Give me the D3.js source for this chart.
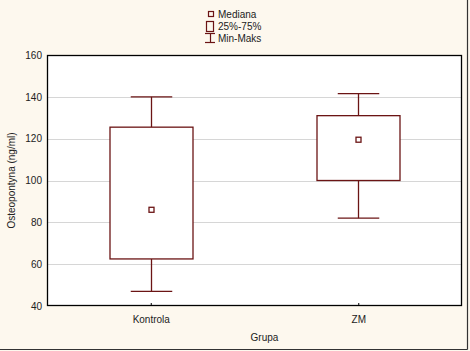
<!DOCTYPE html>
<html><head><meta charset="utf-8">
<script src="https://cdn.jsdelivr.net/npm/d3@7"></script>
<style>body{margin:0;background:#fdf8ee;}svg{display:block;font-family:"Liberation Sans",Arial,sans-serif;}</style>
</head><body>
<script>
const categories = ["Kontrola", "ZM"];
const minVals = [47, 82];
const q1Vals = [62.5, 100];
const medianVals = [86, 119.5];
const q3Vals = [125.5, 131];
const maxVals = [140, 141.5];
const yTicks = [40, 60, 80, 100, 120, 140, 160];
const legendLabels = ["Mediana", "25%-75%", "Min-Maks"];

(function(){
const W = 470, H = 351;
const pLeft = 47, pRight = 462, pTop = 55, pBottom = 306;
const col = "#6b1414";
const svg = d3.select("body").append("svg").attr("width", W).attr("height", H);
svg.append("rect").attr("x",0).attr("y",0).attr("width",W).attr("height",H).attr("fill","#fdf8ee");
// outer frame
svg.append("line").attr("x1",0).attr("x2",467.5).attr("y1",349.5).attr("y2",349.5).attr("stroke","#333").attr("stroke-width",1.2);
svg.append("line").attr("x1",467.5).attr("x2",467.5).attr("y1",0).attr("y2",349.5).attr("stroke","#333").attr("stroke-width",1.2);

const x = d3.scalePoint().domain(categories).range([pLeft, pRight]).padding(0.5);
const y = d3.scaleLinear().domain([40, 160]).range([pBottom, pTop]);
const step = x.step();
const boxW = step * 0.2, capW = step * 0.1;

svg.append("rect").attr("x",pLeft).attr("y",pTop).attr("width",pRight-pLeft).attr("height",pBottom-pTop).attr("fill","#fff");
// grid
svg.append("g").selectAll("line").data(yTicks.slice(1,-1)).join("line")
  .attr("x1",pLeft).attr("x2",pRight).attr("y1",d=>Math.round(y(d))+0.5).attr("y2",d=>Math.round(y(d))+0.5)
  .attr("stroke","#d6d6d6").attr("stroke-width",1);

// y axis
const ya = svg.append("g").attr("transform",`translate(${pLeft},0)`)
  .call(d3.axisLeft(y).tickValues(yTicks).tickSize(0).tickPadding(5));
ya.select(".domain").remove();
ya.selectAll("text").attr("font-size",10).attr("fill","#222").attr("font-family","Liberation Sans, Arial, sans-serif");
// x axis
const xa = svg.append("g").attr("transform",`translate(0,${pBottom})`)
  .call(d3.axisBottom(x).tickSize(-3).tickPadding(10));
xa.select(".domain").remove();
xa.selectAll("line").attr("stroke","#000");
xa.selectAll("text").attr("font-size",10).attr("fill","#222").attr("font-family","Liberation Sans, Arial, sans-serif");

// frame
svg.append("rect").attr("x",pLeft+0.5).attr("y",pTop+0.5).attr("width",pRight-pLeft-1).attr("height",pBottom-pTop-1)
  .attr("fill","none").attr("stroke","#000").attr("stroke-width",1.3);

// boxes
const g = svg.append("g");
categories.forEach((c,i)=>{
  const cx = Math.round(x(c))+0.5;
  const gg = g.append("g").attr("stroke",col).attr("stroke-width",1.3).attr("fill","none");
  gg.append("line").attr("x1",cx).attr("x2",cx).attr("y1",y(maxVals[i])).attr("y2",y(q3Vals[i]));
  gg.append("line").attr("x1",cx).attr("x2",cx).attr("y1",y(q1Vals[i])).attr("y2",y(minVals[i]));
  gg.append("line").attr("x1",cx-capW).attr("x2",cx+capW).attr("y1",y(maxVals[i])).attr("y2",y(maxVals[i]));
  gg.append("line").attr("x1",cx-capW).attr("x2",cx+capW).attr("y1",y(minVals[i])).attr("y2",y(minVals[i]));
  gg.append("rect").attr("x",cx-boxW).attr("y",y(q3Vals[i])).attr("width",boxW*2).attr("height",y(q1Vals[i])-y(q3Vals[i])).attr("fill","#fff");
  gg.append("rect").attr("x",cx-2.5).attr("y",y(medianVals[i])-2.5).attr("width",5).attr("height",5).attr("fill","#fff");
});

// axis titles
svg.append("text").attr("x",(pLeft+pRight)/2+10).attr("y",341).attr("text-anchor","middle").attr("font-size",10).attr("fill","#222").text("Grupa");
svg.append("text").attr("transform",`translate(15,${(pTop+pBottom)/2}) rotate(-90)`).attr("text-anchor","middle").attr("font-size",10).attr("fill","#222").text("Osteopontyna (ng/ml)");

// legend
const lg = svg.append("g");
lg.append("rect").attr("x",208.5).attr("y",11.5).attr("width",5).attr("height",5).attr("fill","none").attr("stroke",col).attr("stroke-width",1.2);
lg.append("rect").attr("x",206.5).attr("y",21.5).attr("width",7).attr("height",10).attr("fill","none").attr("stroke",col).attr("stroke-width",1.2);
lg.append("line").attr("x1",205).attr("x2",215).attr("y1",33.5).attr("y2",33.5).attr("stroke",col).attr("stroke-width",1.2);
lg.append("line").attr("x1",210.5).attr("x2",210.5).attr("y1",33.5).attr("y2",42.5).attr("stroke",col).attr("stroke-width",1.2);
lg.append("line").attr("x1",205).attr("x2",215).attr("y1",42.5).attr("y2",42.5).attr("stroke",col).attr("stroke-width",1.2);
lg.append("g").selectAll("text").data(legendLabels).join("text")
  .attr("x",218).attr("y",(d,i)=>17.5+i*12).attr("font-size",10).attr("fill","#222").text(d=>d);
})();
</script>
</body></html>
